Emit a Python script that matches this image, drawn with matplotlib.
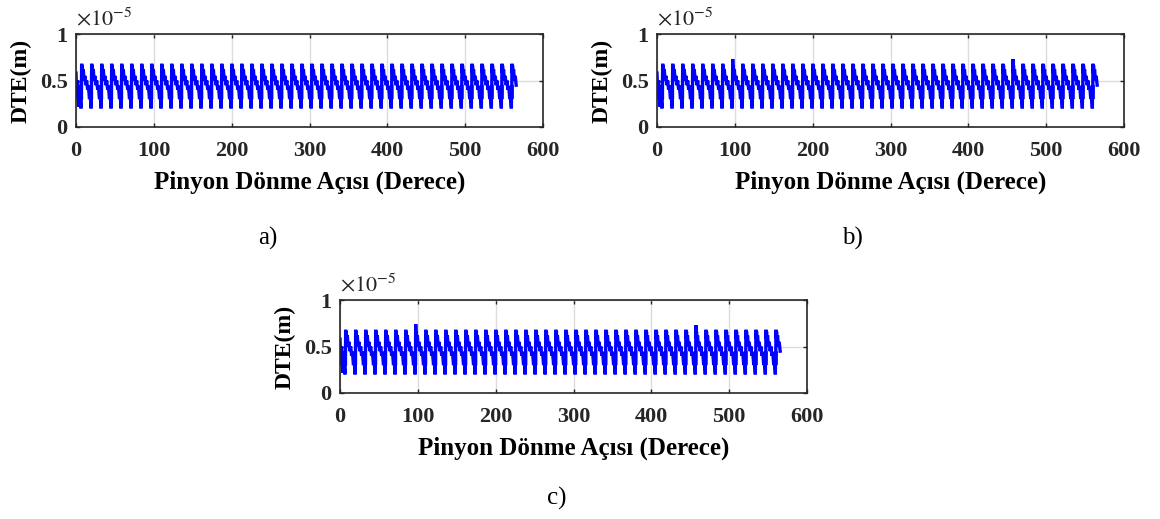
import numpy as np
import matplotlib
matplotlib.use("Agg")
import matplotlib.pyplot as plt

plt.rcParams["font.family"] = ["Liberation Serif", "DejaVu Serif"]
plt.rcParams["mathtext.fontset"] = "stix"

# one mesh period of the DTE curve (phase 0..1, x1e-5 m)
TOOTH_PHASE = [0.00, 0.02, 0.035, 0.06, 0.09, 0.12, 0.16, 0.22, 0.30, 0.38,
               0.48, 0.56, 0.66, 0.74, 0.84, 0.92]
TOOTH_SHAPE = [0.20, 0.45, 0.30, 0.68, 0.58, 0.66, 0.56, 0.62, 0.50, 0.55,
               0.45, 0.50, 0.40, 0.44, 0.30, 0.34]
PEAK_INDEX = 3

TOOTH_PITCH = 12.857   # degrees per tooth (28 teeth)
FIRST_TOOTH = 6.5      # deg
N_TEETH = 44
LAST_PHASE = 0.55

START_X = [0.0, 1.0, 2.0, 3.5, 5.0]
START_Y = [0.58, 0.30, 0.50, 0.22, 0.32]

# per-tooth peak values (x1e-5 m)
peaks_a = [0.68] * 44
peaks_b = [0.68] * 7 + [0.73] + [0.68] * 27 + [0.73] + [0.68] * 8
peaks_c = [0.68] * 7 + [0.74] + [0.68] * 27 + [0.73] + [0.68] * 8

XTICKS = [0, 100, 200, 300, 400, 500, 600]
YTICKS = [0, 0.5, 1]
YTICK_LABELS = ["0", "0.5", "1"]
XLABEL = "Pinyon Dönme Açısı (Derece)"
YLABEL = "DTE(m)"
CAPTIONS = ["a)", "b)", "c)"]


def build_curve(peaks):
    xs = list(START_X)
    ys = list(START_Y)
    for k in range(N_TEETH):
        x0 = FIRST_TOOTH + k * TOOTH_PITCH
        for i, (ph, v) in enumerate(zip(TOOTH_PHASE, TOOTH_SHAPE)):
            if k == N_TEETH - 1 and ph > LAST_PHASE:
                break
            xs.append(x0 + ph * TOOTH_PITCH)
            ys.append(peaks[k] if i == PEAK_INDEX else v)
    return np.array(xs), np.array(ys)


fig = plt.figure(figsize=(11.6, 5.19), dpi=100)
W, H = 1160, 519
boxes = [(76, 34, 543, 127), (657, 34, 1124, 127), (340, 300, 807, 393)]
caps = [(268, 238), (852, 238), (557, 498)]

for (l, t, r, b), peaks, cap, cpos in zip(boxes, [peaks_a, peaks_b, peaks_c], CAPTIONS, caps):
    ax = fig.add_axes([l / W, 1 - b / H, (r - l) / W, (b - t) / H])
    x, y = build_curve(peaks)
    ax.plot(x, y, color="#0000ff", lw=2.4, solid_joinstyle="miter")
    ax.set_xlim(0, 600)
    ax.set_ylim(0, 1)
    ax.set_xticks(XTICKS)
    ax.set_yticks(YTICKS)
    ax.set_yticklabels(YTICK_LABELS)
    ax.grid(True, color="#dcdcdc", lw=1.0)
    ax.tick_params(direction="in", top=True, right=True, length=3, width=1,
                   labelsize=16, colors="#262626")
    ax.tick_params(axis="x", pad=10)
    ax.tick_params(axis="y", pad=6)
    for lab in ax.get_xticklabels() + ax.get_yticklabels():
        lab.set_fontweight("bold")
    for s in ax.spines.values():
        s.set_color("#262626")
        s.set_linewidth(1.2)
    ax.set_xlabel(XLABEL, fontsize=18, fontweight="bold", labelpad=7)
    ax.set_ylabel(YLABEL, fontsize=17, fontweight="bold", labelpad=6)
    ax.text(0.0, 1.04, r"$\times10^{-5}$", transform=ax.transAxes,
            fontsize=16, ha="left", va="bottom", color="#262626")
    fig.text(cpos[0] / W, 1 - cpos[1] / H, cap, fontsize=18,
             ha="center", va="center")

fig.savefig("out.png", dpi=100)
